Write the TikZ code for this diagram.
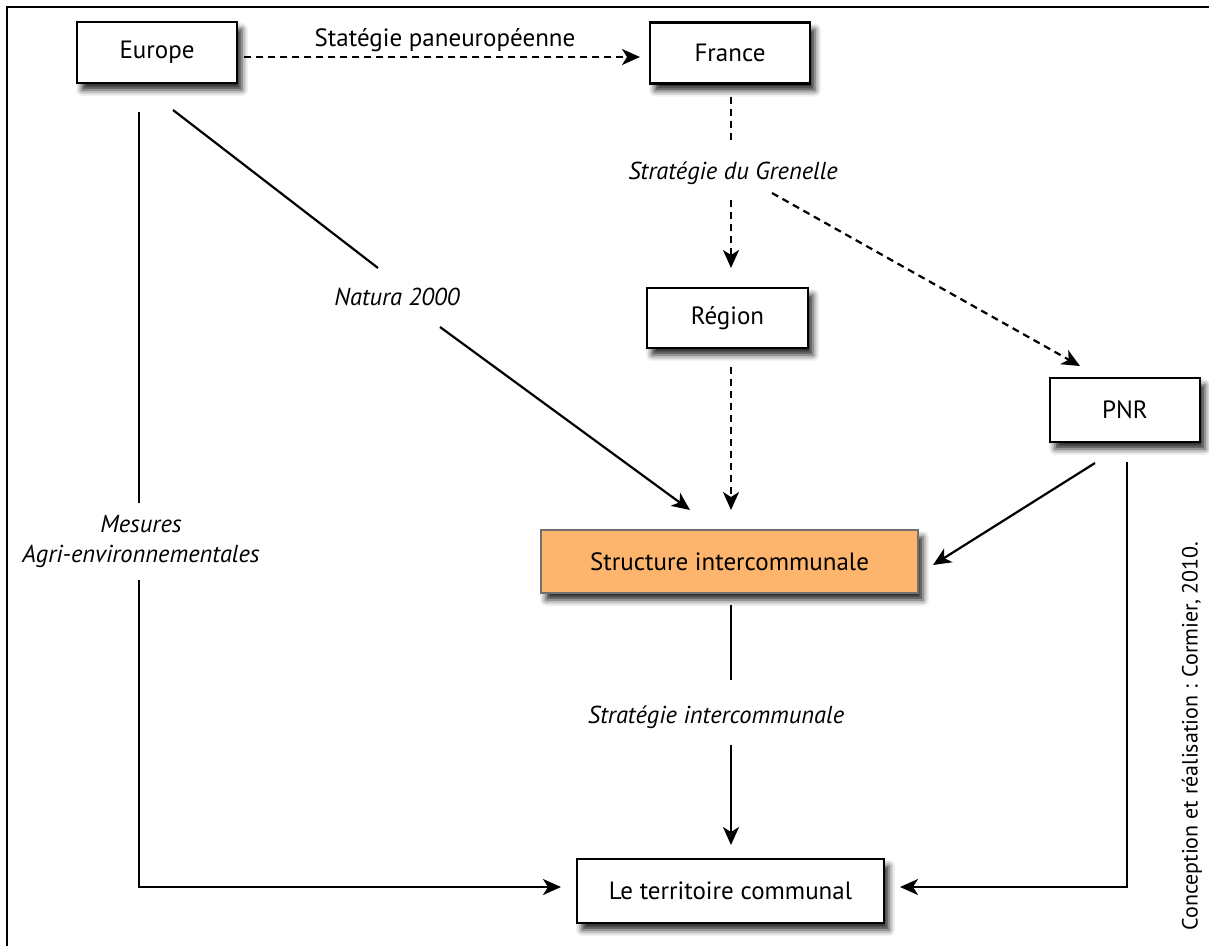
\documentclass[tikz,border=0pt]{standalone}
\usepackage{fontspec}
\setmainfont{PT Sans}
\usetikzlibrary{arrows.meta,shadows.blur}
\definecolor{structfill}{HTML}{FDB46C}
\definecolor{structdraw}{HTML}{707070}
\begin{document}
\begin{tikzpicture}[x={(1pt,0)},y={(0,-1pt)},
  boxstyle/.style={draw=black, line width=2.5pt, fill=white, inner sep=0pt,
    font=\fontsize{25}{29}\selectfont,
    blur shadow={shadow xshift=5pt, shadow yshift=-7pt, shadow blur radius=6pt, shadow opacity=85}},
  lbl/.style={font=\fontsize{24.5}{30}\selectfont\itshape, inner sep=0pt},
  conn/.style={line width=2.2pt, draw=black},
  dconn/.style={conn, dash pattern=on 7pt off 5pt},
  tip/.style={-{Stealth[length=18pt,width=16pt,inset=5pt]}}
]
\useasboundingbox (0,0) rectangle (1209,946);
% frame
\draw[line width=2.5pt] (7,946) -- (7,7) -- (1209,7);

% boxes
\node[boxstyle, minimum width=160pt, minimum height=61pt] (europe) at (157,52.5) {Europe};
\node[boxstyle, minimum width=160pt, minimum height=61pt] (france) at (730,53) {France};
\node[boxstyle, minimum width=161pt, minimum height=60pt] (region) at (727.5,318) {Région};
\node[boxstyle, minimum width=150pt, minimum height=64pt] (pnr) at (1125,410) {PNR};
\node[boxstyle, draw=structdraw, fill=structfill, minimum width=377pt, minimum height=63pt] (structure) at (729.5,561.5) {Structure intercommunale};
\node[boxstyle, minimum width=307pt, minimum height=64pt] (territoire) at (730.5,891) {Le territoire communal};

% labels
\node[font=\fontsize{25}{29}\selectfont, inner sep=0pt] (pan) at (445,40) {Statégie paneuropéenne};
\node[lbl] (grenelle) at (733,173) {Stratégie du Grenelle};
\node[lbl] (natura) at (397,297) {Natura 2000};
\node[lbl, align=center] (mesures) at (141,542) {Mesures\\Agri-environnementales};
\node[lbl] (interco) at (716,717) {Stratégie intercommunale};
\node[font=\fontsize{22}{26}\selectfont, rotate=90, inner sep=0pt] (credit) at (1192,736) {Conception et réalisation : Cormier, 2010.};

% connector end points
\coordinate (eu1) at (244,57);  \coordinate (fr1) at (640,57);
\coordinate (fr2) at (731,97);  \coordinate (gr1) at (731,143);
\coordinate (gr2) at (731,200); \coordinate (rg1) at (731,268);
\coordinate (gr3) at (772,193); \coordinate (pn1) at (1080,366);
\coordinate (eu2) at (173,110); \coordinate (na1) at (378,268);
\coordinate (na2) at (440,327); \coordinate (st1) at (690,510);
\coordinate (rg2) at (731,367); \coordinate (st2) at (731,510);
\coordinate (pn2) at (1095,463); \coordinate (st3) at (933,565);
\coordinate (eu3) at (139,112); \coordinate (me1) at (139,503);
\coordinate (me2) at (139,580); \coordinate (cor1) at (139,887);
\coordinate (te1) at (561,887);
\coordinate (st4) at (731,605); \coordinate (in1) at (731,680);
\coordinate (in2) at (731,745); \coordinate (te2) at (731,845);
\coordinate (pn3) at (1127,462); \coordinate (cor2) at (1127,887);
\coordinate (te3) at (900,887);

% connectors
\draw[dconn, tip] (eu1) -- (fr1);
\draw[dconn] (fr2) -- (gr1);
\draw[dconn, tip] (gr2) -- (rg1);
\draw[dconn, tip] (gr3) -- (pn1);
\draw[conn] (eu2) -- (na1);
\draw[conn, tip] (na2) -- (st1);
\draw[dconn, tip] (rg2) -- (st2);
\draw[conn, tip] (pn2) -- (st3);
\draw[conn] (eu3) -- (me1);
\draw[conn, tip] (me2) -- (cor1) -- (te1);
\draw[conn] (st4) -- (in1);
\draw[conn, tip] (in2) -- (te2);
\draw[conn, tip] (pn3) -- (cor2) -- (te3);
\end{tikzpicture}
\end{document}
